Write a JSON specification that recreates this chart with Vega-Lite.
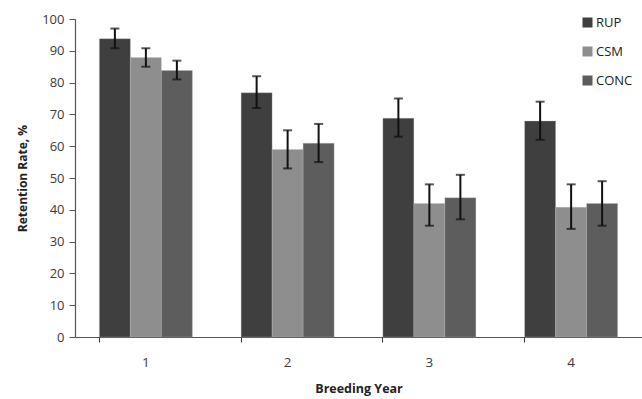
{
  "$schema": "https://vega.github.io/schema/vega-lite/v6.json",
  "width": 567,
  "height": 318,
  "autosize": {"type": "none"},
  "padding": {"left": 75, "top": 19, "right": 0, "bottom": 62},
  "background": "white",
  "config": {
    "view": {"stroke": null},
    "font": "Open Sans",
    "axis": {"labelFont": "Open Sans", "titleFont": "Open Sans", "domainColor": "#555", "tickColor": "#555", "labelColor": "#3a3a3a", "titleColor": "#222"},
    "axisY": {"title": "Retention Rate, %", "titleFontWeight": "bold", "titleFontSize": 12, "titlePadding": 12, "values": [0,10,20,30,40,50,60,70,80,90,100], "grid": false, "labelFontSize": 13, "tickSize": 6, "labelPadding": 5, "domainWidth": 1.2, "labelOverlap": false}
  },
  "data": {
    "values": [
      {"year": "1", "group": "RUP", "rate": 93.8, "lo": 90.8, "hi": 97.0},
      {"year": "1", "group": "CSM", "rate": 87.9, "lo": 85.0, "hi": 90.8},
      {"year": "1", "group": "CONC", "rate": 83.8, "lo": 81.0, "hi": 86.9},
      {"year": "2", "group": "RUP", "rate": 76.8, "lo": 72.0, "hi": 82.0},
      {"year": "2", "group": "CSM", "rate": 59.0, "lo": 53.0, "hi": 65.0},
      {"year": "2", "group": "CONC", "rate": 60.9, "lo": 55.0, "hi": 67.0},
      {"year": "3", "group": "RUP", "rate": 68.8, "lo": 63.0, "hi": 75.0},
      {"year": "3", "group": "CSM", "rate": 42.0, "lo": 35.0, "hi": 48.0},
      {"year": "3", "group": "CONC", "rate": 43.8, "lo": 37.0, "hi": 51.0},
      {"year": "4", "group": "RUP", "rate": 67.9, "lo": 62.0, "hi": 74.0},
      {"year": "4", "group": "CSM", "rate": 40.8, "lo": 34.0, "hi": 48.0},
      {"year": "4", "group": "CONC", "rate": 42.0, "lo": 35.0, "hi": 49.0}
    ]
  },
  "encoding": {
    "xOffset": {"field": "group", "type": "nominal", "sort": ["RUP", "CSM", "CONC"], "scale": {"paddingInner": 0, "paddingOuter": 0}}
  },
  "layer": [
    {
      "mark": {"type": "bar", "stroke": "#bbb", "strokeWidth": 0.5, "strokeOpacity": 0.6},
      "encoding": {
        "x": {"field": "year", "type": "nominal", "scale": {"paddingInner": 0.344, "paddingOuter": 0.172},
          "axis": {"orient": "bottom", "title": "Breeding Year", "titleFontWeight": "bold", "titleFontSize": 12.5, "titlePadding": 14, "labelAngle": 0, "labelFontSize": 13.5, "labelPadding": 18, "ticks": false, "domainWidth": 1.2}},
        "y": {"field": "rate", "type": "quantitative", "scale": {"domain": [0, 100]}, "title": "Retention Rate, %"},
        "color": {"field": "group", "type": "nominal", "sort": ["RUP", "CSM", "CONC"],
          "scale": {"domain": ["RUP", "CSM", "CONC"], "range": ["#3f3f3f", "#8e8e8e", "#5d5d5d"]},
          "legend": {"title": null, "orient": "none", "legendX": 506, "legendY": -3, "symbolType": "square", "symbolSize": 100, "symbolStrokeWidth": 0, "labelFontSize": 13, "labelColor": "#222", "labelFont": "Open Sans", "rowPadding": 15, "labelOffset": 2}}
      }
    },
    {
      "mark": {"type": "rule", "color": "#111", "strokeWidth": 2},
      "encoding": {
        "x": {"field": "year", "type": "nominal", "scale": {"paddingInner": 0.344, "paddingOuter": 0.172},
          "axis": {"orient": "bottom", "bandPosition": 0, "labels": false, "title": null, "ticks": true, "tickSize": 5, "domain": false, "tickColor": "#333"}},
        "y": {"field": "lo", "type": "quantitative", "title": "Retention Rate, %"},
        "y2": {"field": "hi"}
      }
    },
    {
      "mark": {"type": "tick", "color": "#111", "thickness": 2, "size": 9},
      "encoding": {
        "x": {"field": "year", "type": "nominal", "axis": null},
        "y": {"field": "lo", "type": "quantitative", "title": "Retention Rate, %"}}
    },
    {
      "mark": {"type": "tick", "color": "#111", "thickness": 2, "size": 9},
      "encoding": {
        "x": {"field": "year", "type": "nominal", "axis": null},
        "y": {"field": "hi", "type": "quantitative", "title": "Retention Rate, %"}}
    }
  ],
  "resolve": {"axis": {"x": "independent"}}
}
